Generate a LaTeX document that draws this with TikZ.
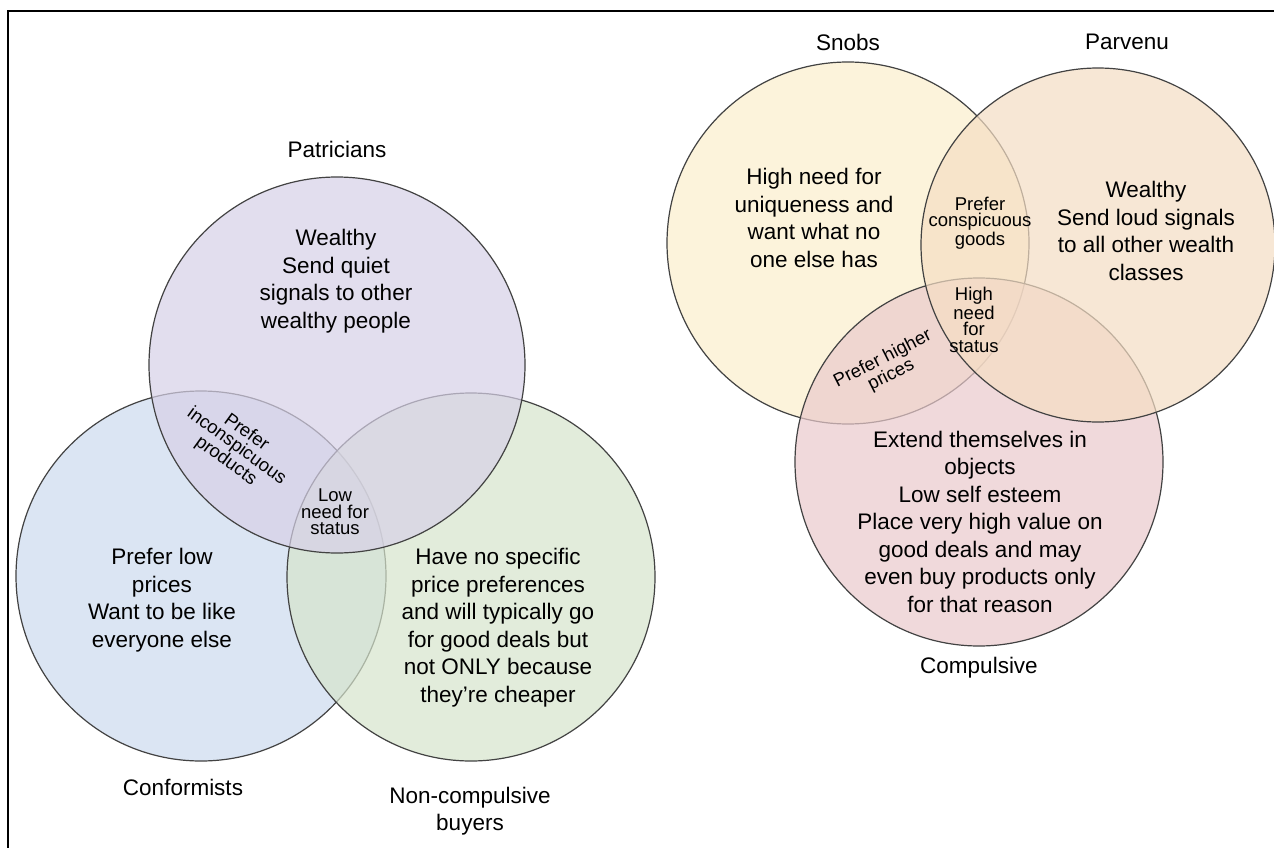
\documentclass[tikz,border=0pt]{standalone}
\usepackage{fontspec}
\setmainfont{Liberation Sans}
\definecolor{cpurple}{RGB}{215,209,231}
\definecolor{cblue}{RGB}{204,218,238}
\definecolor{cgreen}{RGB}{214,228,204}
\definecolor{cyellow}{RGB}{251,238,204}
\definecolor{cparv}{RGB}{245,222,196}
\definecolor{ccomp}{RGB}{234,202,204}
\definecolor{cline}{RGB}{66,66,66}
\begin{document}
\begin{tikzpicture}[x=1pt,y=-1pt,
  venn/.style={circle, draw=cline, line width=1.2pt, fill opacity=0.7, draw opacity=1, inner sep=0pt},
  big/.style={font=\fontsize{22.5}{27.5}\selectfont, align=center, inner sep=0pt},
  small/.style={font=\fontsize{18.5}{16.5}\selectfont, align=center, inner sep=0pt},
  frameline/.style={line width=2pt, black}]
\useasboundingbox (0,0) rectangle (1274,848);
\fill[white] (0,0) rectangle (1274,848);
\coordinate (fbl) at (8,848);
\coordinate (ftl) at (8,11);
\coordinate (ftr) at (1274,11);
\draw[frameline] (fbl) -- (ftl) -- (ftr);

% left Venn
\node[venn, fill=cblue, minimum size=370pt] (conf) at (201,576) {};
\node[venn, fill=cgreen, minimum size=368pt] (noncomp) at (471,577) {};
\node[venn, fill=cpurple, minimum size=376pt] (patr) at (337,365) {};

% right Venn
\node[venn, fill=cyellow, minimum size=362pt] (snobs) at (848,243) {};
\node[venn, fill=ccomp, minimum size=368pt] (comp) at (979,462) {};
\node[venn, fill=cparv, minimum size=354pt] (parv) at (1098,245) {};

% labels
\node[big] (lpatr) at (337,149) {Patricians};
\node[big] (lconf) at (183,787) {Conformists};
\node[big] (lnon) at (470,811) {Non-compulsive\\buyers};
\node[big] (lsnobs) at (848,42) {Snobs};
\node[big] (lparv) at (1127,42) {Parvenu};
\node[big] (lcomp) at (979,668) {Compulsive};

% left bodies
\node[big] (tpatr) at (336,281) {Wealthy\\Send quiet\\signals to other\\wealthy people};
\node[big] (tconf) at (162,600) {Prefer low\\prices\\Want to be like\\everyone else};
\node[big] (tnon) at (498,627.5) {Have no specific\\price preferences\\and will typically go\\for good deals but\\not ONLY because\\they’re cheaper};
\node[small, rotate=-36] (tinc) at (236,447) {Prefer\\inconspicuous\\products};
\node[small] (tlow) at (335,512) {Low\\need for\\status};

% right bodies
\node[big] (tsnobs) at (814,218) {High need for\\uniqueness and\\want what no\\one else has};
\node[big] (tparv) at (1146,231) {Wealthy\\Send loud signals\\to all other wealth\\classes};
\node[big] (tcomp) at (980,521.5) {Extend themselves in\\objects\\Low self esteem\\Place very high value on\\good deals and may\\even buy products only\\for that reason};
\node[small] (tcons) at (980,223) {Prefer\\conspicuous\\goods};
\node[small] (thigh) at (974,320) {High\\need\\for\\status};
\node[small, rotate=27] (tprice) at (887,367) {Prefer higher\\prices};
\end{tikzpicture}
\end{document}
